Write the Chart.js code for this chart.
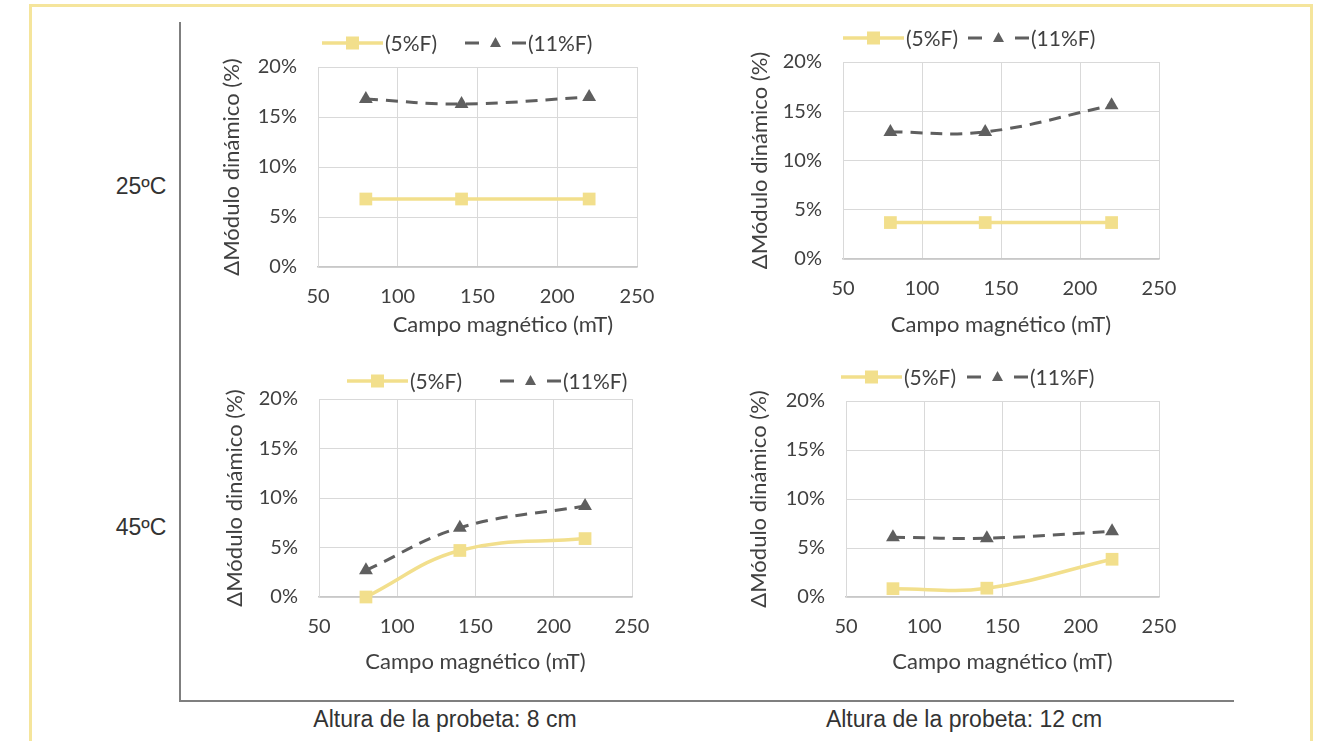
<!DOCTYPE html>
<html>
<head>
<meta charset="utf-8">
<script src="https://cdn.jsdelivr.net/npm/chart.js@4"></script>
<style>
  body { margin: 0; background: #fff; width: 1319px; height: 741px; overflow: hidden; position: relative; }
  .frame { position: absolute; left: 29px; top: 4px; width: 1278px; height: 800px; border: 3px solid #F5E59C; }
  .vline { position: absolute; left: 179px; top: 22px; width: 2px; height: 680px; background: #7f7f7f; }
  .hline { position: absolute; left: 179px; top: 700px; width: 1055px; height: 2px; background: #7f7f7f; }
  .lbl { position: absolute; font-family: "Liberation Sans", Arial, sans-serif; font-size: 23px; color: #333; text-align: center; line-height: 28px; }
  canvas { position: absolute; }
</style>
</head>
<body>
<div class="frame"></div>
<div class="vline"></div>
<div class="hline"></div>
<div class="lbl" style="left:91px; top:172px; width:100px;">25ºC</div>
<div class="lbl" style="left:91px; top:513px; width:100px;">45ºC</div>
<div class="lbl" style="left:245px; top:705px; width:400px;">Altura de la probeta: 8 cm</div>
<div class="lbl" style="left:764px; top:705px; width:400px;">Altura de la probeta: 12 cm</div>

<canvas id="c1" width="480" height="330" style="left:200px; top:20px;"></canvas>
<canvas id="c2" width="480" height="330" style="left:725px; top:15px;"></canvas>
<canvas id="c3" width="480" height="330" style="left:200px; top:355px;"></canvas>
<canvas id="c4" width="480" height="330" style="left:725px; top:355px;"></canvas>

<script>
// Campo magnético (mT)
const campo = [80, 140, 220];
const series = ['(5%F)', '(11%F)'];

// 25ºC, 8 cm
const f5_25_8 = [6.8, 6.8, 6.8];
const f11_25_8 = [16.8, 16.3, 17.0];
// 25ºC, 12 cm
const f5_25_12 = [3.7, 3.7, 3.7];
const f11_25_12 = [12.9, 12.9, 15.6];
// 45ºC, 8 cm
const f5_45_8 = [0.0, 4.7, 5.9];
const f11_45_8 = [2.7, 7.0, 9.2];
// 45ºC, 12 cm
const f5_45_12 = [0.85, 0.9, 3.85];
const f11_45_12 = [6.1, 6.0, 6.7];

const xTicks = [50, 100, 150, 200, 250];
const yTicks = [0, 5, 10, 15, 20];

const YELLOW = '#F2DF8C';
const GRAY = '#5f5f5f';
const TEXT = '#404040';
const FONT = 'Lato';

// leyenda: línea + marcador + texto
const lineLegend = {
  id: 'lineLegend',
  afterDraw(chart, args, opts) {
    const ctx = chart.ctx;
    chart.data.datasets.forEach((ds, i) => {
      const x = opts.x[i], y = opts.y;
      ctx.save();
      ctx.strokeStyle = ds.borderColor;
      ctx.lineWidth = ds.borderWidth;
      ctx.setLineDash(ds.borderDash ? [14, 33] : []);
      ctx.beginPath();
      ctx.moveTo(x, y);
      ctx.lineTo(x + 61, y);
      ctx.stroke();
      ctx.setLineDash([]);
      ctx.fillStyle = ds.pointBackgroundColor;
      const cx = x + 30.5;
      if (ds.pointStyle === 'rect') {
        ctx.fillRect(cx - 6.5, y - 6.5, 13, 13);
      } else {
        ctx.beginPath();
        ctx.moveTo(cx, y - 6);
        ctx.lineTo(cx + 5.5, y + 4);
        ctx.lineTo(cx - 5.5, y + 4);
        ctx.closePath();
        ctx.fill();
      }
      ctx.fillStyle = TEXT;
      ctx.font = '21px ' + FONT;
      ctx.textBaseline = 'middle';
      ctx.fillText(ds.label, x + 63, y + 1);
      ctx.restore();
    });
  }
};

function makeChart(id, d5, d11, lay) {
  const ctx = document.getElementById(id).getContext('2d');
  return new Chart(ctx, {
    type: 'line',
    data: {
      datasets: [{
        label: series[0],
        data: campo.map((x, i) => ({ x: x, y: d5[i] })),
        borderColor: YELLOW,
        borderWidth: 3.5,
        pointStyle: 'rect',
        pointRadius: 9,
        pointBackgroundColor: YELLOW,
        pointBorderWidth: 0,
        tension: 0.4,
        clip: false
      }, {
        label: series[1],
        data: campo.map((x, i) => ({ x: x, y: d11[i] })),
        borderColor: GRAY,
        borderWidth: 3,
        borderDash: [12, 8],
        pointStyle: 'triangle',
        pointRadius: 8,
        pointBackgroundColor: GRAY,
        pointBorderWidth: 0,
        tension: 0.4,
        clip: false
      }]
    },
    options: {
      responsive: false,
      animation: false,
      layout: { padding: { top: lay.top, right: lay.right, left: 0, bottom: 0 } },
      plugins: {
        legend: { display: false },
        tooltip: { enabled: false },
        lineLegend: { x: lay.legX, y: lay.legY }
      },
      scales: {
        x: {
          type: 'linear',
          min: 50, max: 250,
          afterBuildTicks: s => { s.ticks = xTicks.map(v => ({ value: v })); },
          afterFit: s => { s.height = lay.xh; },
          grid: { color: '#d9d9d9', drawTicks: false },
          border: { color: '#c8c8c8', width: 1.5 },
          ticks: { color: TEXT, font: { family: FONT, size: 20 }, padding: 18 },
          title: { display: true, text: ' '.repeat(lay.xtIndent || 0) + 'Campo magnético (mT)', color: TEXT,
                   font: { family: FONT, size: 22 }, padding: { top: 0, bottom: lay.xtPad } }
        },
        y: {
          min: 0, max: 20,
          afterBuildTicks: s => { s.ticks = yTicks.map(v => ({ value: v })); },
          afterFit: s => { s.width = lay.yw; },
          grid: { color: '#d9d9d9', drawTicks: false },
          border: { color: '#d9d9d9' },
          ticks: { color: TEXT, font: { family: FONT, size: 20 }, padding: 21, callback: v => v + '%' },
          title: { display: true, text: 'ΔMódulo dinámico (%)', color: TEXT,
                   font: { family: FONT, size: 22 }, padding: { top: lay.ytPad, bottom: 0 } }
        }
      }
    },
    plugins: [lineLegend]
  });
}

makeChart('c1', f5_25_8, f11_25_8,
  { top: 47, right: 43, yw: 118, xh: 83, xtPad: 12, ytPad: 19, xtIndent: 9, legX: [122, 265], legY: 23 });
makeChart('c2', f5_25_12, f11_25_12,
  { top: 47, right: 46, yw: 118, xh: 86, xtPad: 7, ytPad: 22, legX: [118, 243], legY: 23 });
makeChart('c3', f5_45_8, f11_45_8,
  { top: 44, right: 48, yw: 119, xh: 88, xtPad: 10, ytPad: 22, legX: [147, 300], legY: 26 });
makeChart('c4', f5_45_12, f11_45_12,
  { top: 46, right: 46, yw: 121, xh: 88, xtPad: 10, ytPad: 21, legX: [116, 242], legY: 22 });
</script>
</body>
</html>
